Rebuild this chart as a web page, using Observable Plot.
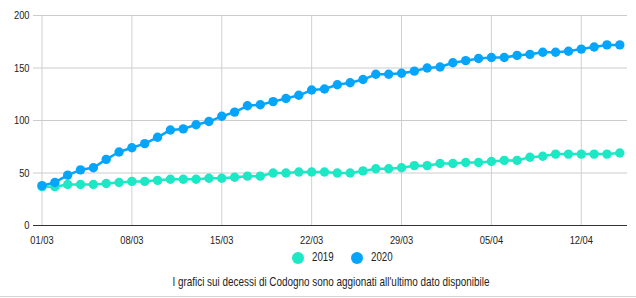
<!DOCTYPE html>
<html>
<head>
<meta charset="utf-8">
<script src="https://cdn.jsdelivr.net/npm/d3@7"></script>
<script src="https://cdn.jsdelivr.net/npm/@observablehq/plot@0.6"></script>
<style>
  html, body { margin: 0; padding: 0; background: #fff; }
  body { width: 636px; height: 298px; overflow: hidden; position: relative;
         font-family: "Liberation Sans", Arial, sans-serif; }
  #chart svg { display: block; }
  #legend { position: relative; height: 48px; width: 636px; color: #222; }
  .sw { position: absolute; width: 12px; height: 12px; border-radius: 50%; top: 1.7px; }
  .lt { position: absolute; top: 0; font-size: 12px; line-height: 15px; transform-origin: 0 50%; transform: scaleX(0.81); white-space: nowrap; }
  #capwrap { position: absolute; top: 22px; left: 0; width: 662px; text-align: center; }
  #caption { display: inline-block; font-size: 13px; line-height: 16px; white-space: nowrap; transform-origin: 50% 50%; color: #222; }
  #bottomline { position: absolute; left: 0; top: 46px; width: 636px; height: 1px; background: #d4d4d4; }
</style>
</head>
<body>
<div id="chart"></div>
<div id="legend">
  <span class="sw" id="sw2019" style="left:291.7px"></span><span class="lt" id="t2019" style="left:311.7px"></span>
  <span class="sw" id="sw2020" style="left:350.7px"></span><span class="lt" id="t2020" style="left:371px"></span>
  <div id="capwrap"><span id="caption"></span></div>
  <div id="bottomline"></div>
</div>
<script>
// ---- data ----
const dayLabels = [
  "01/03","02/03","03/03","04/03","05/03","06/03","07/03","08/03","09/03","10/03",
  "11/03","12/03","13/03","14/03","15/03","16/03","17/03","18/03","19/03","20/03",
  "21/03","22/03","23/03","24/03","25/03","26/03","27/03","28/03","29/03","30/03","31/03",
  "01/04","02/04","03/04","04/04","05/04","06/04","07/04","08/04","09/04","10/04",
  "11/04","12/04","13/04","14/04","15/04"
];
const deaths2019 = [
  37,37,39,39,39,40,41,42,42,43,
  44,44,44,45,45,46,47,47,50,50,
  51,51,51,50,50,52,54,54,55,57,57,
  59,59,60,60,61,62,62,65,66,68,
  68,68,68,68,69
];
const deaths2020 = [
  38,41,48,53,55,63,70,74,78,84,
  91,92,96,99,104,108,114,115,118,121,
  124,129,130,134,136,139,144,144,145,147,150,
  151,155,157,159,160,160,162,163,165,165,
  166,168,170,172,172
];
const seriesNames = ["2019", "2020"];
const seriesColors = ["#1ce8c6", "#05a5fb"];
const xTickLabels = ["01/03","08/03","15/03","22/03","29/03","05/04","12/04"];
const yTicks = [0, 50, 100, 150, 200];
const captionText = "I grafici sui decessi di Codogno sono aggionati all'ultimo dato disponibile";

// ---- build ----
const parse = s => { const [d, m] = s.split("/").map(Number); return new Date(Date.UTC(2020, m - 1, d)); };
const rows = [];
dayLabels.forEach((lab, i) => {
  rows.push({date: parse(lab), value: deaths2019[i], series: seriesNames[0]});
  rows.push({date: parse(lab), value: deaths2020[i], series: seriesNames[1]});
});
const xTicks = xTickLabels.map(parse);
const fmt = d3.utcFormat("%d/%m");
const font = '"Liberation Sans", Arial, sans-serif';

const chart = Plot.plot({
  width: 636,
  height: 250,
  marginTop: 15,
  marginBottom: 25,
  marginLeft: 33,
  marginRight: 9,
  style: {fontFamily: font, fontSize: "11.5px", color: "#222", background: "#fff"},
  x: {type: "utc", domain: [parse(dayLabels[0]), parse(dayLabels[dayLabels.length - 1])], insetLeft: 8.5, insetRight: 7.7},
  y: {domain: [0, 200]},
  color: {domain: seriesNames, range: seriesColors},
  marks: [
    Plot.gridX(xTicks, {stroke: "#d0d0d0", strokeOpacity: 1, strokeWidth: 1}),
    Plot.gridY(yTicks.filter(v => v > 0), {stroke: "#cccccc", strokeOpacity: 1, strokeWidth: 1}),
    Plot.ruleY([0], {stroke: "#333", strokeWidth: 1}),
    Plot.axisX(xTicks, {tickSize: 0, tickPadding: 10, tickFormat: fmt, label: null, fill: "#222", fontSize: 11.5}),
    Plot.axisY(yTicks, {tickSize: 0, tickPadding: 4, label: null, fill: "#222", fontSize: 11.5}),
    Plot.line(rows.filter(r => r.series === seriesNames[0]), {x: "date", y: "value", stroke: "series", strokeWidth: 2.5}),
    Plot.dot(rows.filter(r => r.series === seriesNames[0]), {x: "date", y: "value", fill: "series", r: 4.7}),
    Plot.line(rows.filter(r => r.series === seriesNames[1]), {x: "date", y: "value", stroke: "series", strokeWidth: 2.5}),
    Plot.dot(rows.filter(r => r.series === seriesNames[1]), {x: "date", y: "value", fill: "series", r: 4.7})
  ]
});
document.getElementById("chart").appendChild(chart);

// narrow the axis labels (the reference uses a condensed face)
chart.querySelectorAll("g[aria-label='x-axis tick label'] text, g[aria-label='y-axis tick label'] text").forEach(t => {
  const w = t.getComputedTextLength();
  t.setAttribute("textLength", (w * 0.81).toFixed(2));
  t.setAttribute("lengthAdjust", "spacingAndGlyphs");
});

document.getElementById("sw2019").style.background = seriesColors[0];
document.getElementById("sw2020").style.background = seriesColors[1];
document.getElementById("t2019").textContent = seriesNames[0];
document.getElementById("t2020").textContent = seriesNames[1];
const cap = document.getElementById("caption");
cap.textContent = captionText;
const cw = cap.getBoundingClientRect().width;
cap.style.transform = `scaleX(${(317 / cw).toFixed(4)})`;
</script>
</body>
</html>
